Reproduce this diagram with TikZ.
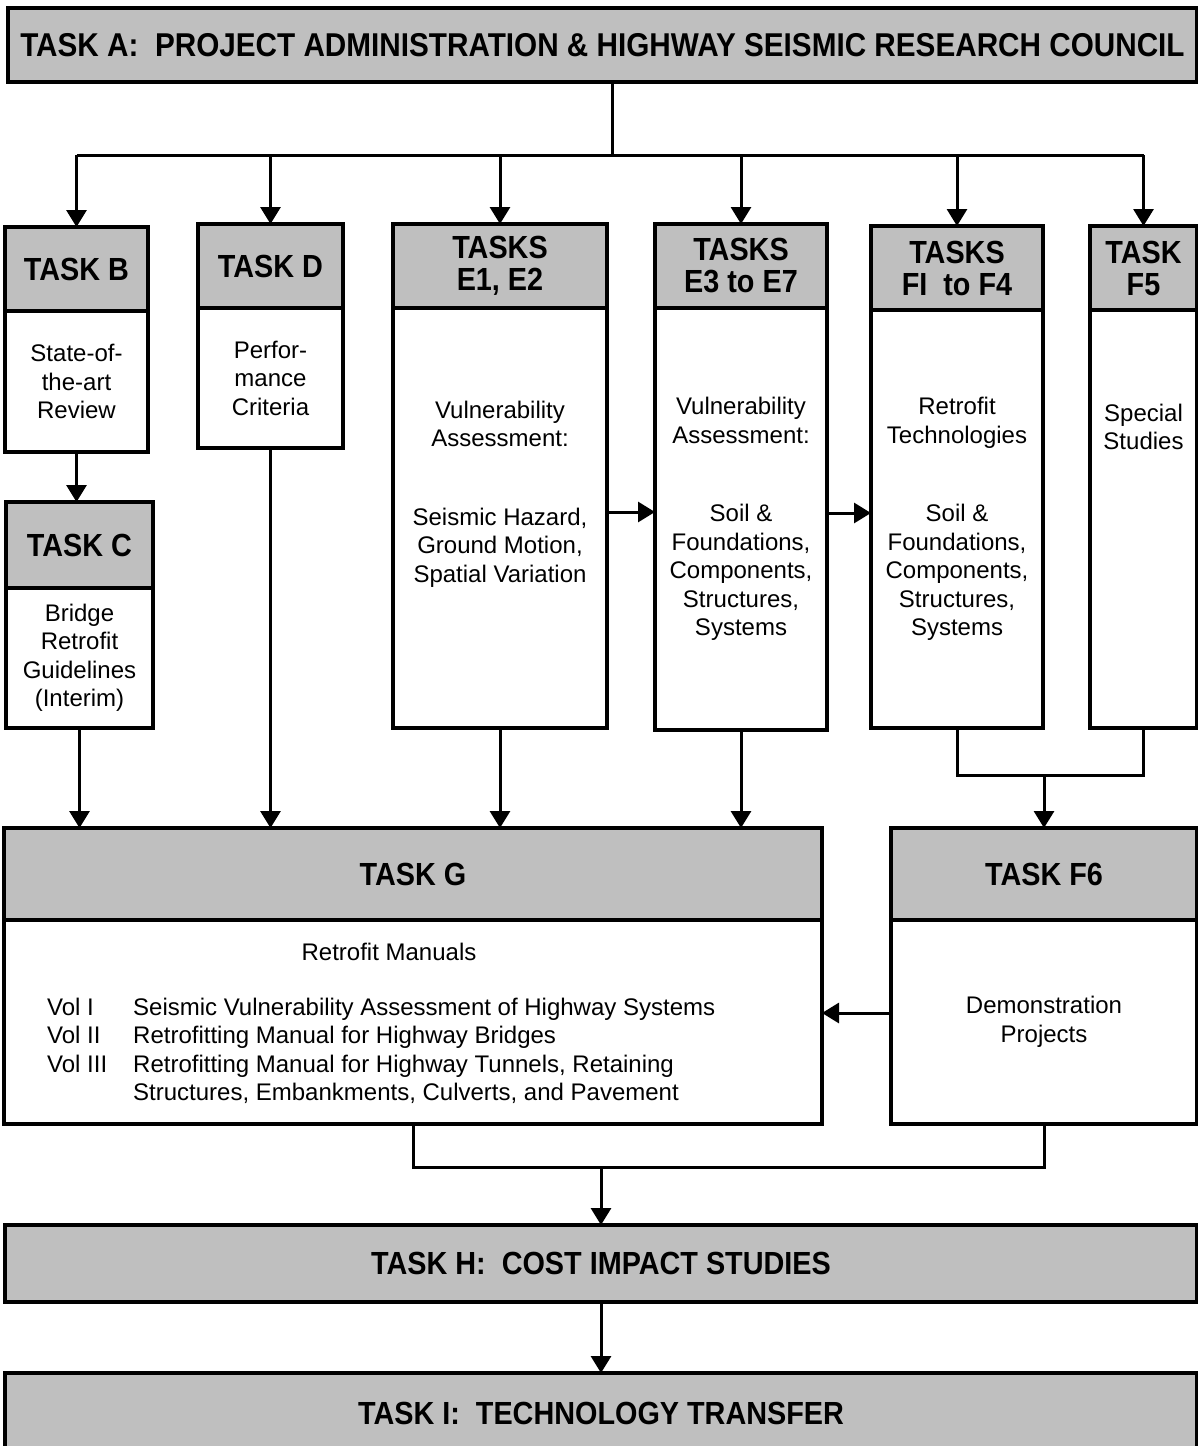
\documentclass[tikz,border=0pt]{standalone}
\usepackage{fontspec}
\setmainfont{Liberation Sans}
\newfontfamily\hdrfont[FakeStretch=0.9]{Liberation Sans}
\usetikzlibrary{positioning, arrows.meta}
\tikzstyle{hdr} = [rectangle, draw=black, line width=3.5pt, fill=black!25, inner sep=0pt, outer sep=0pt, align=center, font=\hdrfont\bfseries\fontsize{32}{32}\selectfont]
\tikzstyle{body} = [rectangle, draw=black, line width=3.5pt, fill=white, inner sep=0pt, outer sep=0pt, align=center, font=\fontsize{24}{28.5}\selectfont]
\tikzstyle{bodytext} = [inner sep=0pt, align=center, font=\fontsize{24}{28.5}\selectfont]
\tikzstyle{link} = [line width=3pt]
\tikzstyle{arrow} = [line width=3pt, -{Triangle[length=17pt,width=20pt]}]

\begin{document}
\begin{tikzpicture}[x=1pt, y=-1pt]
  \useasboundingbox (0,0) rectangle (1198,1446);

  \node (taskA) [hdr, minimum width=1189, minimum height=74, font=\hdrfont\bfseries\fontsize{33}{33}\selectfont] at (602.5,45) {TASK A:\ \ PROJECT ADMINISTRATION \& HIGHWAY SEISMIC RESEARCH COUNCIL};

  \node (hdrB) [hdr, minimum width=143, minimum height=84] at (76.5,269) {TASK B};
  \node (bodyB) [body, minimum width=143, minimum height=141, below=0pt of hdrB] {State-of-\\the-art\\Review};
  \node (hdrC) [hdr, minimum width=147, minimum height=86] at (79.5,545) {TASK C};
  \node (bodyC) [body, minimum width=147, minimum height=140, below=0pt of hdrC] {Bridge\\Retrofit\\Guidelines\\(Interim)};
  \node (hdrD) [hdr, minimum width=145, minimum height=84] at (270.5,266) {TASK D};
  \node (bodyD) [body, minimum width=145, minimum height=140, below=0pt of hdrD] {Perfor-\\mance\\Criteria};
  \node (hdrE1) [hdr, minimum width=214, minimum height=84] at (500,266) {TASKS\\E1, E2};
  \node (bodyE1) [body, minimum width=214, minimum height=420, below=0pt of hdrE1] {};
  \node (txtE1) [bodytext] at ([yshift=24pt]bodyE1.center) {Vulnerability\\Assessment:\\[50pt]Seismic Hazard,\\Ground Motion,\\Spatial Variation};
  \node (hdrE3) [hdr, minimum width=172, minimum height=84] at (741,266) {TASKS\\E3 to E7};
  \node (bodyE3) [body, minimum width=172, minimum height=422, below=0pt of hdrE3] {Vulnerability\\Assessment:\\[50pt]Soil \&\\Foundations,\\Components,\\Structures,\\Systems};
  \node (hdrF1) [hdr, minimum width=172, minimum height=84] at (957,268) {TASKS\\FI~ to F4};
  \node (bodyF1) [body, minimum width=172, minimum height=418, below=0pt of hdrF1] {Retrofit\\Technologies\\[50pt]Soil \&\\Foundations,\\Components,\\Structures,\\Systems};
  \node (hdrF5) [hdr, minimum width=107, minimum height=84] at (1143.5,268) {TASK\\F5};
  \node (bodyF5) [body, minimum width=107, minimum height=418, below=0pt of hdrF5] {};
  \node (txtF5) [bodytext] at ([yshift=92pt]bodyF5.center) {Special\\Studies};

  \node (hdrG) [hdr, minimum width=818, minimum height=92] at (413,874) {TASK G};
  \node (bodyG) [body, minimum width=818, minimum height=204, below=0pt of hdrG] {};
  \node (txtG) [bodytext, anchor=base] at (389,960) {Retrofit Manuals};
  \node (volsG) [bodytext, anchor=base west] at (47,1015) {%
    \begin{tabular}[t]{@{}p{86pt}@{}l@{}}
      Vol I & Seismic Vulnerability Assessment of Highway Systems\\
      Vol II & Retrofitting Manual for Highway Bridges\\
      Vol III & Retrofitting Manual for Highway Tunnels, Retaining\\
      & Structures, Embankments, Culverts, and Pavement
    \end{tabular}};
  \node (hdrF6) [hdr, minimum width=306, minimum height=92] at (1044,874) {TASK F6};
  \node (bodyF6) [body, minimum width=306, minimum height=204, below=0pt of hdrF6] {Demonstration\\Projects};

  \node (taskH) [hdr, minimum width=1192, minimum height=77] at (601,1263.5) {TASK H:\ \ COST IMPACT STUDIES};
  \node (taskI) [hdr, minimum width=1192, minimum height=80] at (601,1413) {TASK I:\ \ TECHNOLOGY TRANSFER};

  % fan out from task A
  \coordinate (fan) at (612,155);
  \draw[link] (taskA.south -| fan) -- (fan);
  \draw[link] (hdrB.north |- fan) -- (hdrF5.north |- fan);
  \draw[arrow] (hdrB.north |- fan) -- (hdrB.north);
  \draw[arrow] (hdrD.north |- fan) -- (hdrD.north);
  \draw[arrow] (hdrE1.north |- fan) -- (hdrE1.north);
  \draw[arrow] (hdrE3.north |- fan) -- (hdrE3.north);
  \draw[arrow] (hdrF1.north |- fan) -- (hdrF1.north);
  \draw[arrow] (hdrF5.north |- fan) -- (hdrF5.north);

  \draw[arrow] (bodyB.south) -- (bodyB.south |- hdrC.north);
  \draw[arrow] ([yshift=6pt]bodyE1.east) -- ([yshift=6pt]bodyE1.east -| bodyE3.west);
  \draw[arrow] ([yshift=6pt]bodyE3.east) -- ([yshift=6pt]bodyE3.east -| bodyF1.west);

  % into task G
  \draw[arrow] (bodyC.south) -- (bodyC.south |- hdrG.north);
  \draw[arrow] (bodyD.south) -- (bodyD.south |- hdrG.north);
  \draw[arrow] (bodyE1.south) -- (bodyE1.south |- hdrG.north);
  \draw[arrow] (bodyE3.south) -- (bodyE3.south |- hdrG.north);

  \coordinate (fjoin) at (1044,775);
  \draw[link] (bodyF1.south) -- (bodyF1.south |- fjoin) -- (bodyF5.south |- fjoin) -- (bodyF5.south);
  \draw[arrow] (hdrF6.north |- fjoin) -- (hdrF6.north);
  \draw[arrow] ([yshift=9pt]bodyF6.west) -- ([yshift=9pt]bodyF6.west -| bodyG.east);

  % down to H and I
  \coordinate (gjoin) at (611,1167);
  \draw[link] (bodyG.south) -- (bodyG.south |- gjoin) -- (bodyF6.south |- gjoin) -- (bodyF6.south);
  \draw[arrow] (taskH.north |- gjoin) -- (taskH.north);
  \draw[arrow] (taskH.south) -- (taskI.north);
\end{tikzpicture}
\end{document}
